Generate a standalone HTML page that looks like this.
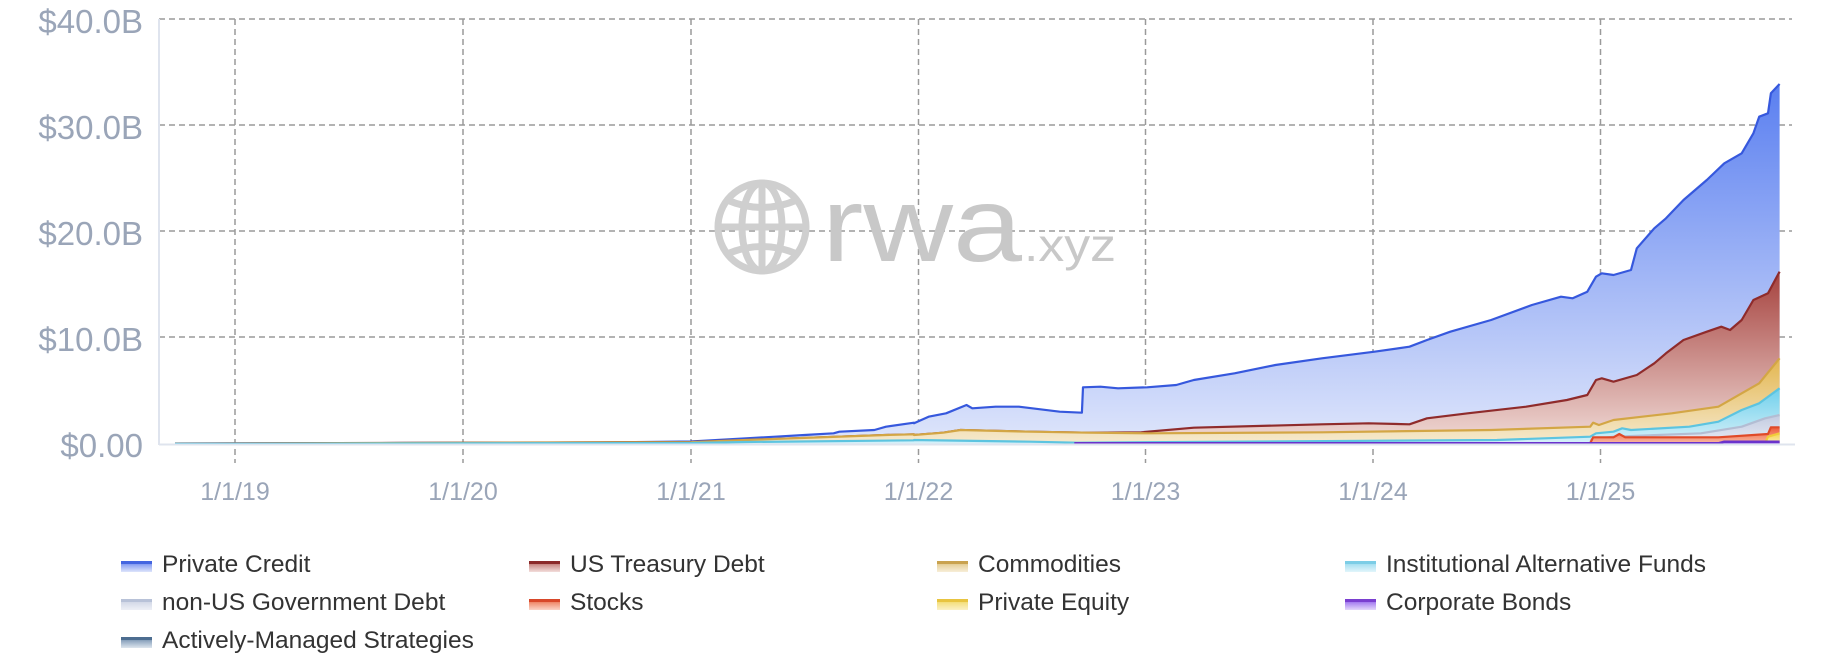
<!DOCTYPE html>
<html><head><meta charset="utf-8"><style>
html,body{margin:0;padding:0;background:#fff;width:1828px;height:666px;overflow:hidden}
svg{display:block}
.yl{font-family:"Liberation Sans",sans-serif;font-size:33px;fill:#9aa5b8;text-anchor:end}
.xl{font-family:"Liberation Sans",sans-serif;font-size:25px;fill:#9aa5b8;text-anchor:middle}
.lg{font-family:"Liberation Sans",sans-serif;font-size:24.5px;fill:#333}
</style></head><body>
<svg id="s" width="1828" height="666" viewBox="0 0 1828 666" xmlns="http://www.w3.org/2000/svg">
<defs>
<linearGradient id="gPC" x1="0" y1="0" x2="0" y2="1"><stop offset="0" stop-color="#5a7ff0"/><stop offset="1" stop-color="#dfe6fb"/></linearGradient>
<linearGradient id="gTR" x1="0" y1="0" x2="0" y2="1"><stop offset="0" stop-color="#a5413d"/><stop offset="1" stop-color="#f1dcd8"/></linearGradient>
<linearGradient id="gCO" x1="0" y1="0" x2="0" y2="1"><stop offset="0" stop-color="#e3b64f"/><stop offset="1" stop-color="#f6ead0"/></linearGradient>
<linearGradient id="gIA" x1="0" y1="0" x2="0" y2="1"><stop offset="0" stop-color="#6fd0ec"/><stop offset="1" stop-color="#d8f1f9"/></linearGradient>
<linearGradient id="gNU" x1="0" y1="0" x2="0" y2="1"><stop offset="0" stop-color="#c3cbe0"/><stop offset="1" stop-color="#e8ecf5"/></linearGradient>
<linearGradient id="gST" x1="0" y1="0" x2="0" y2="1"><stop offset="0" stop-color="#ee5a38"/><stop offset="1" stop-color="#f9c0a8"/></linearGradient>
<linearGradient id="gPE" x1="0" y1="0" x2="0" y2="1"><stop offset="0" stop-color="#f5d44c"/><stop offset="1" stop-color="#fbf0c0"/></linearGradient>
<linearGradient id="sw1" x1="0" y1="0" x2="0" y2="1"><stop offset="0" stop-color="#4465e0"/><stop offset=".25" stop-color="#4465e0"/><stop offset=".3" stop-color="#8aa0f2"/><stop offset="1" stop-color="#dde4fb"/></linearGradient>
<linearGradient id="sw2" x1="0" y1="0" x2="0" y2="1"><stop offset="0" stop-color="#8b2a2a"/><stop offset=".25" stop-color="#8b2a2a"/><stop offset=".3" stop-color="#c98a86"/><stop offset="1" stop-color="#f3dedc"/></linearGradient>
<linearGradient id="sw3" x1="0" y1="0" x2="0" y2="1"><stop offset="0" stop-color="#c9a24e"/><stop offset=".25" stop-color="#c9a24e"/><stop offset=".3" stop-color="#e6cf98"/><stop offset="1" stop-color="#f7eed8"/></linearGradient>
<linearGradient id="sw4" x1="0" y1="0" x2="0" y2="1"><stop offset="0" stop-color="#7ccde6"/><stop offset=".25" stop-color="#7ccde6"/><stop offset=".3" stop-color="#a8e0f1"/><stop offset="1" stop-color="#e2f5fb"/></linearGradient>
<linearGradient id="sw5" x1="0" y1="0" x2="0" y2="1"><stop offset="0" stop-color="#b8c2d8"/><stop offset=".25" stop-color="#b8c2d8"/><stop offset=".3" stop-color="#d4dae8"/><stop offset="1" stop-color="#eef0f6"/></linearGradient>
<linearGradient id="sw6" x1="0" y1="0" x2="0" y2="1"><stop offset="0" stop-color="#d8482a"/><stop offset=".25" stop-color="#d8482a"/><stop offset=".3" stop-color="#ef8a6c"/><stop offset="1" stop-color="#fbd5c8"/></linearGradient>
<linearGradient id="sw7" x1="0" y1="0" x2="0" y2="1"><stop offset="0" stop-color="#e8c440"/><stop offset=".25" stop-color="#e8c440"/><stop offset=".3" stop-color="#f4df7e"/><stop offset="1" stop-color="#fbf1c6"/></linearGradient>
<linearGradient id="sw8" x1="0" y1="0" x2="0" y2="1"><stop offset="0" stop-color="#7a3fd0"/><stop offset=".25" stop-color="#7a3fd0"/><stop offset=".3" stop-color="#a67ff0"/><stop offset="1" stop-color="#e4d8fb"/></linearGradient>
<linearGradient id="sw9" x1="0" y1="0" x2="0" y2="1"><stop offset="0" stop-color="#4d6d90"/><stop offset=".25" stop-color="#4d6d90"/><stop offset=".3" stop-color="#8aa2bd"/><stop offset="1" stop-color="#dde5ee"/></linearGradient>
</defs>
<g id="grid" stroke="#9a9a9a" stroke-width="1.5" stroke-dasharray="6,4" fill="none">
<line x1="159" y1="19" x2="1792" y2="19"/><line x1="159" y1="125" x2="1792" y2="125"/><line x1="159" y1="231" x2="1792" y2="231"/><line x1="159" y1="337" x2="1792" y2="337"/>
<line x1="235" y1="19" x2="235" y2="463"/><line x1="463" y1="19" x2="463" y2="463"/><line x1="691" y1="19" x2="691" y2="463"/><line x1="918.5" y1="19" x2="918.5" y2="463"/><line x1="1145.5" y1="19" x2="1145.5" y2="463"/><line x1="1373" y1="19" x2="1373" y2="463"/><line x1="1600.5" y1="19" x2="1600.5" y2="463"/>
</g>
<line x1="159" y1="19" x2="159" y2="445" stroke="#dfe4ee" stroke-width="2"/>
<g fill="none" stroke="#cfcfcf" stroke-width="7">
<ellipse cx="762" cy="227" rx="44" ry="44"/>
<ellipse cx="762" cy="227" rx="20" ry="44"/>
<line x1="762" y1="183" x2="762" y2="271"/>
<line x1="718" y1="227" x2="806" y2="227"/>
<path d="M727 200 Q762 215 797 200"/><path d="M727 254 Q762 239 797 254"/>
</g>
<text x="822" y="261" font-family="Liberation Sans,sans-serif" font-size="106" fill="#c8c8c8" textLength="200" lengthAdjust="spacingAndGlyphs">rwa</text>
<text x="1024" y="261" font-family="Liberation Sans,sans-serif" font-size="46" fill="#c8c8c8" textLength="92" lengthAdjust="spacingAndGlyphs">.xyz</text>
<g id="data"></g>
<line x1="159" y1="444.5" x2="1795" y2="444.5" stroke="#dfe4ee" stroke-width="2"/>
<text class="yl" x="143" y="33">$40.0B</text>
<text class="yl" x="143" y="139">$30.0B</text>
<text class="yl" x="143" y="245">$20.0B</text>
<text class="yl" x="143" y="351">$10.0B</text>
<text class="yl" x="143" y="457">$0.00</text>
<text class="xl" x="235" y="500">1/1/19</text>
<text class="xl" x="463" y="500">1/1/20</text>
<text class="xl" x="691" y="500">1/1/21</text>
<text class="xl" x="918.5" y="500">1/1/22</text>
<text class="xl" x="1145.5" y="500">1/1/23</text>
<text class="xl" x="1373" y="500">1/1/24</text>
<text class="xl" x="1600.5" y="500">1/1/25</text>
<g>
<rect x="121" y="561" width="31" height="11" fill="url(#sw1)"/><text class="lg" x="162" y="572">Private Credit</text>
<rect x="529" y="561" width="31" height="11" fill="url(#sw2)"/><text class="lg" x="570" y="572">US Treasury Debt</text>
<rect x="937" y="561" width="31" height="11" fill="url(#sw3)"/><text class="lg" x="978" y="572">Commodities</text>
<rect x="1345" y="561" width="31" height="11" fill="url(#sw4)"/><text class="lg" x="1386" y="572">Institutional Alternative Funds</text>
<rect x="121" y="599" width="31" height="11" fill="url(#sw5)"/><text class="lg" x="162" y="610">non-US Government Debt</text>
<rect x="529" y="599" width="31" height="11" fill="url(#sw6)"/><text class="lg" x="570" y="610">Stocks</text>
<rect x="937" y="599" width="31" height="11" fill="url(#sw7)"/><text class="lg" x="978" y="610">Private Equity</text>
<rect x="1345" y="599" width="31" height="11" fill="url(#sw8)"/><text class="lg" x="1386" y="610">Corporate Bonds</text>
<rect x="121" y="637" width="31" height="11" fill="url(#sw9)"/><text class="lg" x="162" y="648">Actively-Managed Strategies</text>
</g>
</svg>
<script>
(function(){
var B=444.3;
function z1(p){return p.map(function(q){return [q[0]/1.7155,q[1]/3];});}
function z2(p){return p.map(function(q){return [914+q[0]/1.7155,q[1]/3];});}
var pc=[[175,443.5],[400,443],[600,442.5],[691,441.5]].concat(z1([[1280,1315],[1330,1310],[1380,1305],[1430,1300],[1440,1295],[1500,1290],[1520,1280],[1568,1268]]),z2([[0,1270],[25,1250],[55,1240],[90,1215],[100,1225],[140,1220],[180,1220],[250,1235],[288,1238],[290,1162],[320,1160],[350,1165],[400,1162],[450,1155],[480,1140],[550,1120],[620,1095],[700,1075],[790,1055],[850,1040],[880,1020],[920,995],[990,960],[1060,915],[1110,890],[1130,895],[1155,875],[1170,830],[1180,820],[1200,825],[1230,810],[1240,745],[1270,685],[1290,655],[1320,600],[1360,540],[1390,490],[1420,460],[1440,400],[1450,350],[1465,340],[1470,280],[1485,252]]));
var tr=[[175,443.6],[691,442]].concat(z1([[1280,1320],[1520,1305],[1568,1303]]),z2([[0,1305],[50,1298],[80,1290],[200,1295],[300,1298],[390,1297],[480,1283],[700,1273],[780,1270],[850,1273],[880,1255],[950,1240],[1050,1220],[1120,1200],[1155,1185],[1170,1140],[1180,1135],[1200,1145],[1240,1125],[1270,1090],[1290,1060],[1320,1020],[1360,995],[1385,980],[1400,990],[1420,960],[1440,900],[1465,880],[1485,815]]));
var co=[[175,443.7],[691,442.2]].concat(z1([[1280,1320],[1520,1305],[1568,1303]]),z2([[0,1305],[50,1298],[80,1290],[200,1295],[300,1298],[400,1300],[700,1297],[990,1290],[1160,1280],[1165,1268],[1175,1275],[1200,1260],[1300,1240],[1380,1220],[1420,1180],[1450,1150],[1485,1075]]));
var ia=[[175,443.8],[691,443]].concat(z1([[1280,1326],[1568,1321]]),z2([[0,1320],[200,1325],[280,1328],[1000,1320],[1160,1310],[1170,1300],[1200,1295],[1215,1285],[1230,1290],[1330,1280],[1380,1265],[1420,1230],[1450,1210],[1485,1165]]));
var nu=z2([[1160,1330],[1162,1318],[1200,1310],[1350,1300],[1420,1280],[1460,1255],[1485,1245]]);
var st=z2([[1160,1330],[1165,1312],[1200,1312],[1210,1302],[1220,1312],[1380,1312],[1465,1302],[1470,1282],[1485,1282]]);
var pe=z2([[1460,1330],[1465,1310],[1485,1300]]);
var cb=z2([[275,1330],[1380,1330],[1390,1325],[1485,1325]]);
function area(p,fill,stroke,sw){
  var d='M'+p[0][0].toFixed(1)+' '+B;
  p.forEach(function(q){d+=' L'+q[0].toFixed(1)+' '+q[1].toFixed(1);});
  d+=' L'+p[p.length-1][0].toFixed(1)+' '+B+' Z';
  var l='M'+p.map(function(q){return q[0].toFixed(1)+' '+q[1].toFixed(1);}).join(' L');
  return '<path d="'+d+'" fill="'+fill+'"/><path d="'+l+'" fill="none" stroke="'+stroke+'" stroke-width="'+(sw||2.2)+'" stroke-linejoin="round"/>';
}
var h='';
h+=area(pc,'url(#gPC)','#3658dd');
h+=area(tr,'url(#gTR)','#8f2b2b');
h+=area(co,'url(#gCO)','#d3a645');
h+=area(ia,'url(#gIA)','#5cc4e0');
h+=area(nu,'url(#gNU)','#b3bdd3');
h+=area(st,'url(#gST)','#e04a28');
h+=area(pe,'url(#gPE)','#f0cc3a');
h+=area(cb,'#9b6be8','#6a33cc',2.5);
document.getElementById('data').innerHTML=h;
})();
</script>
</body></html>
